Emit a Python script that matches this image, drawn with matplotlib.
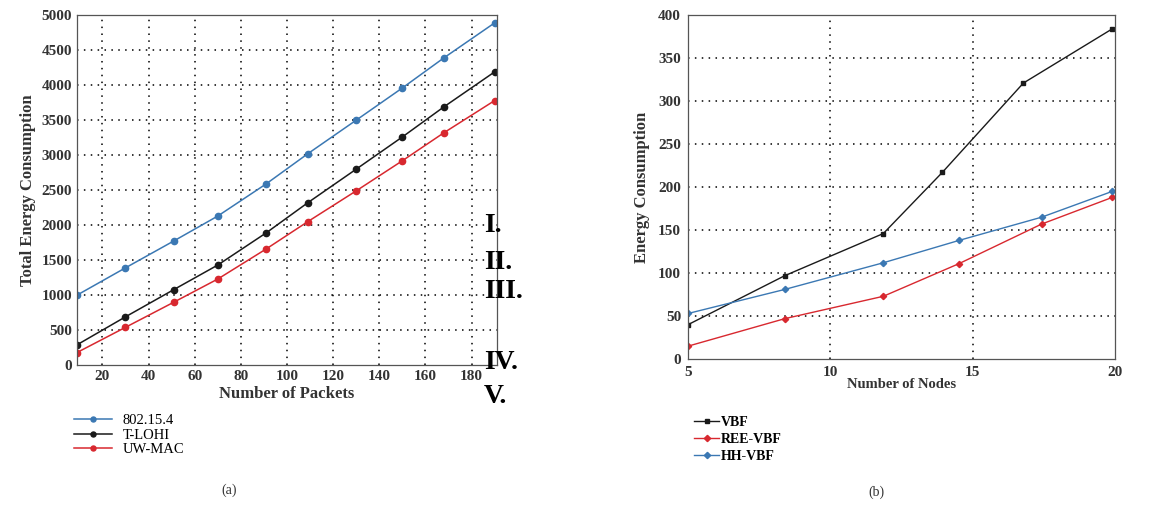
import matplotlib
matplotlib.use("Agg")
import matplotlib.pyplot as plt

plt.rcParams["font.family"] = ["Liberation Serif", "DejaVu Serif"]

# (a) energia total segun numero de paquetes
paquetes = [9, 30, 51, 70, 91, 109, 130, 150, 168, 190]
e_802 = [1000, 1390, 1775, 2130, 2590, 3020, 3500, 3960, 4390, 4890]
e_tlohi = [290, 690, 1080, 1430, 1890, 2320, 2800, 3260, 3690, 4190]
e_uwmac = [180, 540, 900, 1230, 1660, 2050, 2490, 2920, 3320, 3780]

# (b) energia segun numero de nodos
nodos_vbf = [5, 8.4, 11.86, 13.93, 16.78, 19.9]
e_vbf = [40, 97, 146, 217, 321, 384]
nodos_hh = [5, 8.4, 11.86, 14.52, 17.42, 19.9]
e_ree = [15, 47, 73, 111, 157, 188]
e_hh = [53, 81, 112, 138, 165, 195]

xt_a = [20, 40, 60, 80, 100, 120, 140, 160, 180]
yt_a = [0, 500, 1000, 1500, 2000, 2500, 3000, 3500, 4000, 4500, 5000]
xt_b = [5, 10, 15, 20]
yt_b = [0, 50, 100, 150, 200, 250, 300, 350, 400]

azul = "#3b78b3"
negro = "#1a1a1a"
rojo = "#d8282f"
gris = "#333333"
punteado = (0, (1, 3.5))

fig = plt.figure(figsize=(11.55, 5.05), dpi=100)

# ---------- grafico (a) ----------
ax1 = fig.add_axes([0.0667, 0.277, 0.3636, 0.693])
ax1.plot(paquetes, e_802, color=azul, marker="o", ms=4.5, lw=1.1, label="802.15.4")
ax1.plot(paquetes, e_tlohi, color=negro, marker="o", ms=4.5, lw=1.1, label="T-LOHI")
ax1.plot(paquetes, e_uwmac, color=rojo, marker="o", ms=4.5, lw=1.1, label="UW-MAC")
ax1.set_xlim(9, 191)
ax1.set_ylim(0, 5000)
ax1.set_xticks(xt_a)
ax1.set_yticks(yt_a)
for v in xt_a:
    ax1.axvline(v, color="black", ls=punteado, lw=1.1, zorder=0)
for v in yt_a[1:-1]:
    ax1.axhline(v, color="black", ls=punteado, lw=1.1, zorder=0)
ax1.tick_params(length=0, labelsize=11, pad=3.5)
for t in ax1.get_xticklabels() + ax1.get_yticklabels():
    t.set_fontweight("bold")
    t.set_color(gris)
ax1.set_xlabel("Number of Packets", fontsize=12, fontweight="bold", color=gris, labelpad=2)
ax1.set_ylabel("Total Energy Consumption", fontsize=12, fontweight="bold", color=gris, labelpad=4)
for s in ax1.spines.values():
    s.set_color("#555555")
    s.set_linewidth(0.9)

ax1.legend(loc="upper left", bbox_to_anchor=(0.058, 0.195), bbox_transform=fig.transFigure,
           frameon=False, fontsize=10.5, handlelength=2.6, handletextpad=0.7,
           labelspacing=0.1, borderpad=0, markerscale=0.8)

# numeros romanos sueltos
romanos = ["I.", "II.", "III.", "IV.", "V."]
y_rom = [0.554, 0.481, 0.422, 0.283, 0.214]
for r, yy in zip(romanos, y_rom):
    fig.text(0.419, yy, r, fontsize=20, fontweight="bold", va="center", ha="left")

fig.text(0.198, 0.03, "(a)", fontsize=10, ha="center", va="center", color=gris)

# ---------- grafico (b) ----------
ax2 = fig.add_axes([0.5957, 0.289, 0.3697, 0.681])
ax2.plot(nodos_vbf, e_vbf, color=negro, marker="s", ms=3.2, lw=1.0, label="VBF")
ax2.plot(nodos_hh, e_ree, color=rojo, marker="D", ms=3.2, lw=1.0, label="REE-VBF")
ax2.plot(nodos_hh, e_hh, color=azul, marker="D", ms=3.2, lw=1.0, label="HH-VBF")
ax2.set_xlim(5, 20)
ax2.set_ylim(0, 400)
ax2.set_xticks(xt_b)
ax2.set_yticks(yt_b)
for v in xt_b[1:-1]:
    ax2.axvline(v, color="black", ls=punteado, lw=1.1, zorder=0)
for v in yt_b[1:-1]:
    ax2.axhline(v, color="black", ls=punteado, lw=1.1, zorder=0)
ax2.tick_params(length=0, labelsize=11, pad=5)
for t in ax2.get_xticklabels() + ax2.get_yticklabels():
    t.set_fontweight("bold")
    t.set_color(gris)
ax2.set_xlabel("Number of Nodes", fontsize=10.5, fontweight="bold", color=gris, labelpad=-1)
ax2.set_ylabel("Energy Consumption", fontsize=12, fontweight="bold", color=gris, labelpad=6)
for s in ax2.spines.values():
    s.set_color("#555555")
    s.set_linewidth(0.9)

leg2 = ax2.legend(loc="upper left", bbox_to_anchor=(0.595, 0.19), bbox_transform=fig.transFigure,
                  frameon=False, fontsize=10, handlelength=1.8, handletextpad=0.1,
                  labelspacing=0.3, borderpad=0)
for t in leg2.get_texts():
    t.set_fontweight("bold")

fig.text(0.759, 0.026, "(b)", fontsize=10, ha="center", va="center", color=gris)

fig.savefig("out.png", dpi=100)
